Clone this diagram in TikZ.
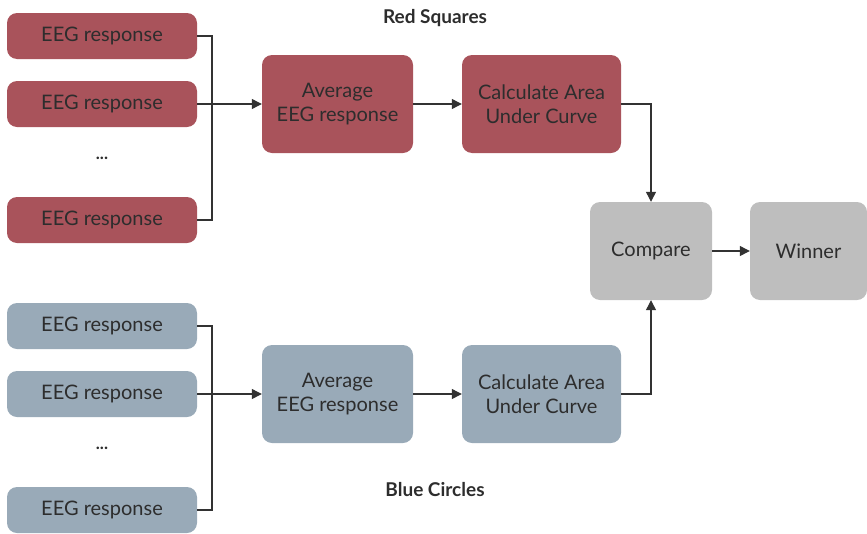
\documentclass[tikz,border=0pt]{standalone}
\usepackage{fontspec}
\setmainfont{Lato}
\usetikzlibrary{arrows.meta}
\definecolor{redbox}{RGB}{169,83,91}
\definecolor{bluebox}{RGB}{153,170,184}
\definecolor{graybox}{RGB}{190,190,190}
\definecolor{txt}{RGB}{45,45,45}
\definecolor{ln}{RGB}{50,50,50}
\tikzset{
  box/.style={rounded corners=10pt, inner sep=0pt, align=center, text=txt, font=\fontsize{20}{23.5}\selectfont},
  eeg/.style={box, minimum width=190pt, minimum height=46pt},
  mid/.style={box, minimum width=151pt, minimum height=98pt},
  calc/.style={box, minimum width=159pt, minimum height=98pt},
  fin/.style={box, minimum width=122pt, minimum height=98pt},
  conn/.style={draw=ln, line width=1.2pt},
  arr/.style={conn, -{Triangle[length=10pt,width=10pt]}},
  dots/.style={text=txt, font=\bfseries\fontsize{17}{21}\selectfont},
  title/.style={text=txt, font=\bfseries\fontsize{19}{22}\selectfont}
}
\begin{document}
\begin{tikzpicture}[x=1pt,y=-1pt]
\useasboundingbox (0,0) rectangle (867,533);
% red branch
\node[eeg, fill=redbox] (r1) at (102,36) {EEG response};
\node[eeg, fill=redbox] (r2) at (102,104) {EEG response};
\node[dots] (rd) at (102,158) {...};
\node[eeg, fill=redbox] (r3) at (102,220) {EEG response};
\node[mid, fill=redbox] (ra) at (337.5,104) {Average\\EEG response};
\node[calc, fill=redbox] (rc) at (541.5,104) {Calculate Area\\Under Curve};
\node[title] (rt) at (435,18) {Red Squares};
% blue branch
\node[eeg, fill=bluebox] (b1) at (102,326) {EEG response};
\node[eeg, fill=bluebox] (b2) at (102,394) {EEG response};
\node[dots] (bd) at (102,448) {...};
\node[eeg, fill=bluebox] (b3) at (102,510) {EEG response};
\node[mid, fill=bluebox] (ba) at (337.5,394) {Average\\EEG response};
\node[calc, fill=bluebox] (bc) at (541.5,394) {Calculate Area\\Under Curve};
\node[title] (bt) at (435,490) {Blue Circles};
% final
\node[fin, fill=graybox] (cmp) at (651,251) {Compare};
\node[fin, fill=graybox, minimum width=117pt] (win) at (808.5,251) {Winner};
% red connectors
\coordinate (rj) at (212,104);
\draw[conn] (r1.east) -| (rj);
\draw[conn] (r3.east) -| (rj);
\draw[conn] (r2.east) -- (rj);
\draw[arr] (rj) -- (ra.west);
\draw[arr] (ra.east) -- (rc.west);
\draw[arr] (rc.east) -| (cmp.north);
% blue connectors
\coordinate (bj) at (212,394);
\draw[conn] (b1.east) -| (bj);
\draw[conn] (b3.east) -| (bj);
\draw[conn] (b2.east) -- (bj);
\draw[arr] (bj) -- (ba.west);
\draw[arr] (ba.east) -- (bc.west);
\draw[arr] (bc.east) -| (cmp.south);
% final
\draw[arr] (cmp.east) -- (win.west);
\end{tikzpicture}
\end{document}
